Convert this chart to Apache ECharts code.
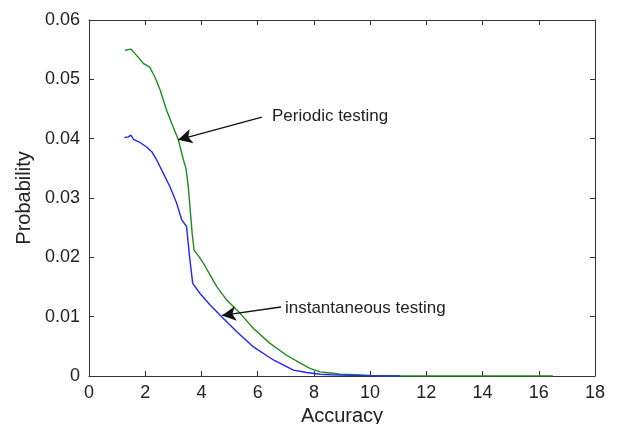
<!DOCTYPE html>
<html>
<head>
<meta charset="utf-8">
<script src="https://cdn.jsdelivr.net/npm/echarts@6/dist/echarts.min.js"></script>
<style>
  html, body { margin: 0; padding: 0; background: #fff; }
  #chart { width: 618px; height: 424px; }
</style>
</head>
<body>
<div id="chart"></div>
<script>
// periodic testing (green)
const periodicX = [1.28, 1.49, 1.7, 1.93, 2.17, 2.35, 2.53, 2.76, 2.94, 3.18, 3.36, 3.45, 3.53, 3.6, 3.67, 3.74, 3.9, 4.07, 4.24, 4.54, 4.9, 5.37, 5.85, 6.44, 7.03, 7.5, 7.86, 8.22, 8.6, 8.93, 9.5, 10, 11, 12, 14, 16.5];
const periodicY = [0.0549, 0.0551, 0.054, 0.0527, 0.052, 0.0503, 0.0482, 0.0448, 0.0426, 0.0398, 0.0364, 0.035, 0.032, 0.028, 0.024, 0.0212, 0.0202, 0.019, 0.0176, 0.0151, 0.0128, 0.0106, 0.008, 0.0055, 0.0035, 0.0022, 0.0013, 0.0007, 0.0005, 0.0003, 0.0002, 0.0001, 0, 0, 0, 0];

// instantaneous testing (blue)
const instantX = [1.26, 1.4, 1.49, 1.58, 1.8, 2.05, 2.25, 2.41, 2.64, 2.88, 3.12, 3.3, 3.47, 3.58, 3.69, 3.95, 4.3, 4.72, 5.25, 5.85, 6.56, 7.27, 7.74, 8.22, 8.6, 9.29, 10, 11.07];
const instantY = [0.0402, 0.0403, 0.0406, 0.0399, 0.0394, 0.0386, 0.0377, 0.0364, 0.0342, 0.0319, 0.0291, 0.0263, 0.0252, 0.02, 0.0156, 0.0139, 0.012, 0.01, 0.0075, 0.0049, 0.0027, 0.001, 0.0006, 0.0003, 0.0002, 0.0001, 0, 0];

// annotations: [text, text anchor, arrow start, arrow tip] in data units
const annotations = [
  ['Periodic testing', [6.51, 0.0438], [6.15, 0.04365], [3.17, 0.0398]],
  ['instantaneous testing', [6.97, 0.01146], [6.83, 0.01163], [4.73, 0.0102]]
];

const font = 'Liberation Sans, Arial, sans-serif';
const ink = '#222';
const zip = (xs, ys) => xs.map((x, i) => [x, ys[i]]);

const chart = echarts.init(document.getElementById('chart'));

const baseX = {
  type: 'value', min: 0, max: 18, interval: 2,
  axisLine: { show: true, onZero: false, lineStyle: { color: '#333', width: 1 } },
  axisTick: { show: true, inside: true, length: 5, lineStyle: { color: '#333' } },
  splitLine: { show: false }
};
const baseY = {
  type: 'value', min: 0, max: 0.06, interval: 0.01,
  axisLine: { show: true, onZero: false, lineStyle: { color: '#333', width: 1 } },
  axisTick: { show: true, inside: true, length: 5, lineStyle: { color: '#333' } },
  splitLine: { show: false }
};

chart.setOption({
  animation: false,
  grid: { left: 89, right: 23, top: 20, bottom: 48, outerBoundsMode: 'none', containLabel: false },
  xAxis: [
    Object.assign({}, baseX, {
      position: 'bottom',
      name: 'Accuracy', nameLocation: 'middle', nameGap: 28,
      nameTextStyle: { fontFamily: font, fontSize: 20, color: ink },
      axisLabel: { fontFamily: font, fontSize: 18, color: ink, margin: 8 }
    }),
    Object.assign({}, baseX, { position: 'top', axisLabel: { show: false } })
  ],
  yAxis: [
    Object.assign({}, baseY, {
      position: 'left',
      name: 'Probability', nameLocation: 'middle', nameGap: 55,
      nameTextStyle: { fontFamily: font, fontSize: 20, color: ink },
      axisLabel: {
        fontFamily: font, fontSize: 18, color: ink, margin: 9,
        formatter: v => (v === 0 ? '0' : v.toFixed(2))
      }
    }),
    Object.assign({}, baseY, { position: 'right', axisLabel: { show: false } })
  ],
  series: [
    {
      type: 'line', name: 'Periodic testing',
      data: zip(periodicX, periodicY),
      showSymbol: false, smooth: false,
      lineStyle: { color: '#1e8c1e', width: 1.4 },
      markLine: {
        silent: true,
        symbol: ['none', 'arrow'], symbolSize: [11, 14],
        lineStyle: { color: '#111', width: 1.3, type: 'solid' },
        label: { show: false },
        data: annotations.map(a => [{ coord: a[2] }, { coord: a[3] }])
      },
      markPoint: {
        silent: true,
        symbol: 'circle', symbolSize: 0,
        label: {
          show: true, position: 'right', distance: 0,
          fontFamily: font, fontSize: 17, color: ink,
          formatter: p => p.name
        },
        data: annotations.map(a => ({ name: a[0], coord: a[1] }))
      }
    },
    {
      type: 'line', name: 'instantaneous testing',
      data: zip(instantX, instantY),
      showSymbol: false, smooth: false,
      lineStyle: { color: '#2424ff', width: 1.4 }
    }
  ]
});
</script>
</body>
</html>
